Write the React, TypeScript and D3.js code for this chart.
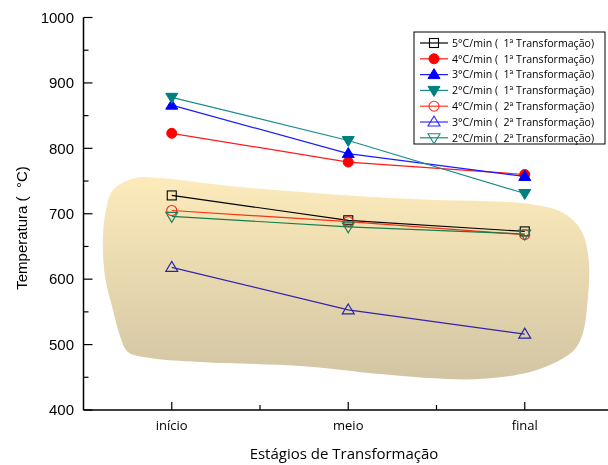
import React from "react";
import * as d3 from "d3";

const stages = ["início", "meio", "final"];
const yTicks = [400, 500, 600, 700, 800, 900, 1000];

const rate5First = [728, 690, 673];
const rate4First = [823, 779, 760];
const rate3First = [866, 792, 757];
const rate2First = [878, 812, 731];
const rate4Second = [705, 688, 668];
const rate3Second = [618, 553, 516];
const rate2Second = [696, 680, 669];

const seriesLabels = [
  "5°C/min (  1ª Transformação)",
  "4°C/min (  1ª Transformação)",
  "3°C/min (  1ª Transformação)",
  "2°C/min (  1ª Transformação)",
  "4°C/min (  2ª Transformação)",
  "3°C/min (  2ª Transformação)",
  "2°C/min (  2ª Transformação)",
];

// Outline of the shaded region (stage position, temperature), clockwise from the top-left
const regionX = [
  0.667, 0.792, 0.933, 1.33, 1.897, 2.463, 2.746, 3.03, 3.183, 3.273, 3.33, 3.364, 3.358, 3.33, 3.285, 3.2,
  3.03, 2.746, 2.463, 2.18, 1.727, 1.16, 0.877, 0.752, 0.707, 0.667, 0.622, 0.61, 0.627,
];
const regionY = [
  736.3, 754.6, 754.6, 742.4, 730.0, 721.5, 719.5, 715.0, 705.7, 690.4, 669.0, 624.7, 572.7, 517.7, 493.2, 476.4,
  458.1, 447.4, 448.9, 455.0, 467.3, 473.4, 479.5, 488.7, 513.1, 552.9, 603.3, 664.5, 705.7,
];

type Shape = "square" | "circle" | "up" | "down";
interface Series {
  label: string;
  values: number[];
  color: string;
  line: string;
  shape: Shape;
  filled: boolean;
}

const series: Series[] = [
  { label: seriesLabels[0], values: rate5First, color: "#000000", line: "#000000", shape: "square", filled: false },
  { label: seriesLabels[1], values: rate4First, color: "#ff0000", line: "#ff1a1a", shape: "circle", filled: true },
  { label: seriesLabels[2], values: rate3First, color: "#0000ff", line: "#1a1aff", shape: "up", filled: true },
  { label: seriesLabels[3], values: rate2First, color: "#007f7f", line: "#1a8c8c", shape: "down", filled: true },
  { label: seriesLabels[4], values: rate4Second, color: "#ff2a2a", line: "#ff3a1a", shape: "circle", filled: false },
  { label: seriesLabels[5], values: rate3Second, color: "#2a2aff", line: "#3a2aff", shape: "up", filled: false },
  { label: seriesLabels[6], values: rate2Second, color: "#1a8c7f", line: "#1a8c6a", shape: "down", filled: false },
];

const W = 608;
const H = 465;
const x = d3.scaleLinear().domain([0.5, 3.5]).range([83.5, 613]);
const y = d3.scaleLinear().domain([400, 1000]).range([410, 17.5]);

function Marker({ cx, cy, s }: { cx: number; cy: number; s: Series }) {
  const fill = s.filled ? s.color : "none";
  const sw = s.filled ? 1 : 1.1;
  if (s.shape === "square") {
    return <rect x={cx - 4.5} y={cy - 4.5} width={9} height={9} fill={fill} stroke={s.color} strokeWidth={sw} />;
  }
  if (s.shape === "circle") {
    return <circle cx={cx} cy={cy} r={5} fill={fill} stroke={s.color} strokeWidth={sw} />;
  }
  const h = 10;
  const w = 12;
  const pts =
    s.shape === "up"
      ? [[cx, cy - h * 0.6], [cx + w / 2, cy + h * 0.4], [cx - w / 2, cy + h * 0.4]]
      : [[cx, cy + h * 0.6], [cx + w / 2, cy - h * 0.4], [cx - w / 2, cy - h * 0.4]];
  return <polygon points={pts.map((p) => p.join(",")).join(" ")} fill={fill} stroke={s.color} strokeWidth={sw} strokeLinejoin="miter" />;
}

export default function App() {
  const line = d3
    .line<number>()
    .x((_, i) => x(i + 1))
    .y((d) => y(d));

  const region = d3
    .line<number>()
    .x((_, i) => x(regionX[i]))
    .y((d) => y(d))
    .curve(d3.curveCatmullRomClosed.alpha(0.5))(regionY) as string;

  const minorY = d3.range(450, 1000, 100);
  const minorX = [1.5, 2.5];
  const axisFont = "'Liberation Sans', Arial, sans-serif";
  const uiFont = "'Open Sans', 'DejaVu Sans', sans-serif";

  const legendX = 414;
  const legendY = 32;
  const rowH = 15.8;

  return (
    <svg width={W} height={H} style={{ display: "block", position: "absolute", left: 0, top: 0, background: "#fff" }}>
      <defs>
        <linearGradient id="regionFill" x1="0" y1="0" x2="0" y2="1">
          <stop offset="0" stopColor="#fdebbb" />
          <stop offset="1" stopColor="#d2c5a3" />
        </linearGradient>
      </defs>

      {/* data lines and markers */}
      {series.map((s, k) => (
        <g key={k}>
          <path d={line(s.values) as string} fill="none" stroke={s.line} strokeWidth={1.2} />
          {s.values.map((v, i) => (
            <Marker key={i} cx={x(i + 1)} cy={y(v)} s={s} />
          ))}
        </g>
      ))}

      {/* shaded region, multiplied over the lines */}
      <path d={region} fill="url(#regionFill)" style={{ mixBlendMode: "multiply" }} />

      {/* axes */}
      <line x1={x(0.5)} x2={W} y1={y(400)} y2={y(400)} stroke="#000" strokeWidth={1.5} />
      <line x1={x(0.5)} x2={x(0.5)} y1={y(400)} y2={y(1000)} stroke="#000" strokeWidth={1.5} />
      {yTicks.map((t) => (
        <g key={t}>
          <line x1={x(0.5)} x2={x(0.5) + 9} y1={y(t)} y2={y(t)} stroke="#000" strokeWidth={1.2} />
          <text x={74} y={y(t)} dy="0.35em" textAnchor="end" fontFamily={axisFont} fontSize={15} fill="#000">
            {t}
          </text>
        </g>
      ))}
      {minorY.map((t) => (
        <line key={t} x1={x(0.5)} x2={x(0.5) + 5} y1={y(t)} y2={y(t)} stroke="#000" strokeWidth={1.2} />
      ))}
      {stages.map((s, i) => (
        <g key={s}>
          <line x1={x(i + 1)} x2={x(i + 1)} y1={y(400)} y2={y(400) - 8} stroke="#000" strokeWidth={1.2} />
          <text x={x(i + 1)} y={425} dy="0.35em" textAnchor="middle" fontFamily={uiFont} fontSize={13} fill="#000">
            {s}
          </text>
        </g>
      ))}
      {minorX.map((t) => (
        <line key={t} x1={x(t)} x2={x(t)} y1={y(400)} y2={y(400) - 5} stroke="#000" strokeWidth={1.2} />
      ))}

      <text x={344} y={454} dy="0.35em" textAnchor="middle" fontFamily={uiFont} fontSize={15} fill="#000">
        Estágios de Transformação
      </text>
      <text
        transform={`translate(22,228) rotate(-90)`}
        dy="0.35em"
        textAnchor="middle"
        fontFamily={axisFont}
        fontSize={15}
        fill="#000"
        style={{ whiteSpace: "pre" }}
      >
        {"Temperatura (  °C)"}
      </text>

      {/* legend */}
      <rect x={legendX} y={legendY} width={191} height={112} fill="#fff" stroke="#000" strokeWidth={1} />
      {series.map((s, k) => {
        const cy = legendY + 11 + k * rowH;
        return (
          <g key={k}>
            <line x1={420} x2={448} y1={cy} y2={cy} stroke={s.line} strokeWidth={1.2} />
            <Marker cx={434} cy={cy} s={s} />
            <text x={452} y={cy} dy="0.35em" fontFamily={uiFont} fontSize={10.6} fill="#000" style={{ whiteSpace: "pre" }}>
              {s.label}
            </text>
          </g>
        );
      })}
    </svg>
  );
}
